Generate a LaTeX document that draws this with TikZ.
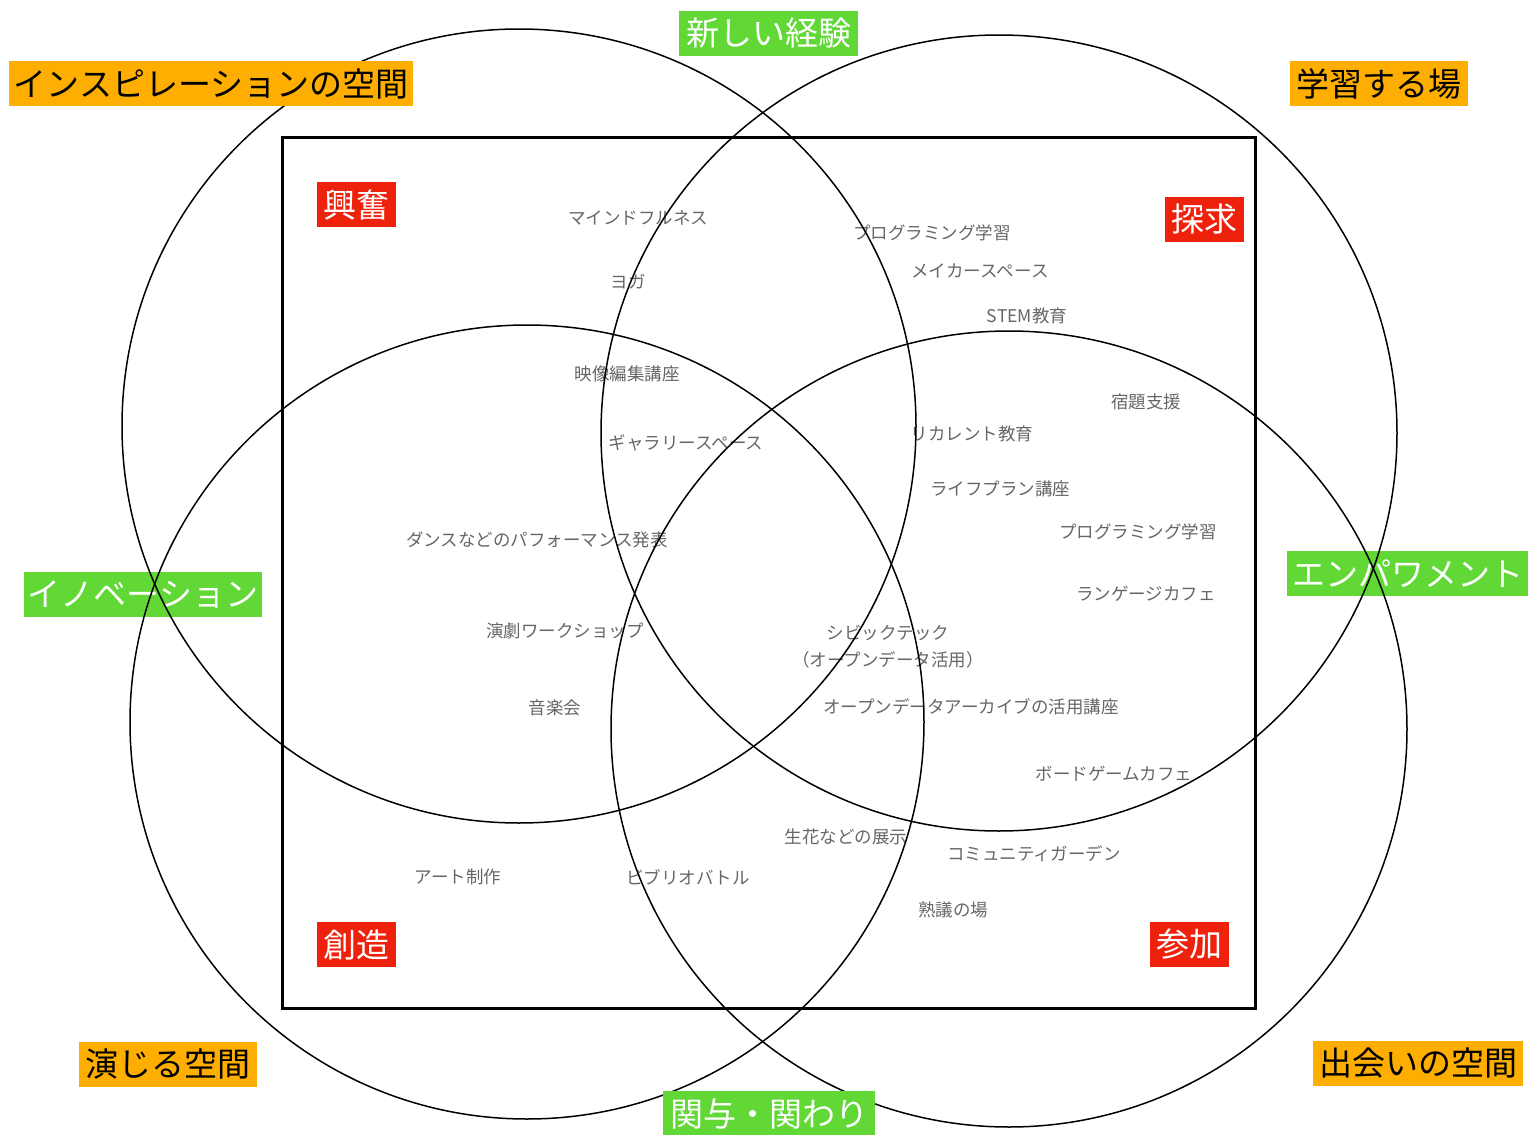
\documentclass[tikz,border=0pt]{standalone}
\usepackage{fontspec}
\setmainfont{Noto Sans CJK JP}
\definecolor{korange}{HTML}{FEAE00}
\definecolor{kgreen}{HTML}{61D836}
\definecolor{kred}{HTML}{EE220C}
\definecolor{kgray}{HTML}{666666}
\tikzset{
  tag/.style={inner sep=0pt, minimum height=22.5pt, font=\fontsize{16.5}{18}\selectfont},
  orangetag/.style={tag, fill=korange, text=black},
  greentag/.style={tag, fill=kgreen, text=white},
  redtag/.style={tag, fill=kred, text=white, minimum width=39.5pt},
  item/.style={text=kgray, inner sep=0pt, font=\fontsize{8.75}{13.5}\selectfont, align=center},
  circ/.style={draw=black, line width=0.75pt},
  frame/.style={draw=black, line width=1.5pt}
}
\begin{document}
\begin{tikzpicture}[x=0.5pt, y=-0.5pt]
\useasboundingbox (0,0) rectangle (1528,1135);
% small items
\node[item] (i1) at (638,218) {マインドフルネス};
\node[item] (i2) at (628,282) {ヨガ};
\node[item] (i3) at (932,233) {プログラミング学習};
\node[item] (i4) at (980,271) {メイカースペース};
\node[item] (i5) at (1027,316) {STEM教育};
\node[item] (i6) at (627,374) {映像編集講座};
\node[item] (i7) at (686,443) {ギャラリースペース};
\node[item] (i8) at (1146,402) {宿題支援};
\node[item] (i9) at (972,434) {リカレント教育};
\node[item] (i10) at (1000,489) {ライフプラン講座};
\node[item] (i11) at (1138,532) {プログラミング学習};
\node[item] (i12) at (1146,594) {ランゲージカフェ};
\node[item] (i13) at (537,540) {ダンスなどのパフォーマンス発表};
\node[item] (i14) at (565,631) {演劇ワークショップ};
\node[item] (i15) at (888,647) {シビックテック\\（オープンデータ活用）};
\node[item] (i16) at (555,708) {音楽会};
\node[item] (i17) at (971,707) {オープンデータアーカイブの活用講座};
\node[item] (i18) at (1114,774) {ボードゲームカフェ};
\node[item] (i19) at (846,837) {生花などの展示};
\node[item] (i20) at (1034,854) {コミュニティガーデン};
\node[item] (i21) at (458,877) {アート制作};
\node[item] (i22) at (688,877) {ビブリオバトル};
\node[item] (i23) at (953,910) {熟議の場};
% red tags
\node[redtag] (r1) at (356,204.5) {興奮};
\node[redtag] (r2) at (1204,219.5) {探求};
\node[redtag] (r3) at (356,944.5) {創造};
\node[redtag] (r4) at (1189,944.5) {参加};
% green tags under lines
\node[greentag, minimum width=119pt] (g2) at (143,594.5) {イノベーション};
\node[greentag, minimum width=120.5pt] (g3) at (1407.5,573.5) {エンパワメント};
% frame and circles
\draw[frame] (282,137) rectangle (1255,1008);
\draw[circ] (519,426) circle[radius=198.5pt];
\draw[circ] (999,433) circle[radius=199pt];
\draw[circ] (527,722) circle[radius=198.5pt];
\draw[circ] (1009,729) circle[radius=199pt];
% tags over lines
\node[orangetag, minimum width=202pt] (o1) at (211,83.5) {インスピレーションの空間};
\node[orangetag, minimum width=89pt] (o2) at (1379,83.5) {学習する場};
\node[orangetag, minimum width=89pt] (o3) at (168,1064) {演じる空間};
\node[orangetag, minimum width=105pt] (o4) at (1418,1063.5) {出会いの空間};
\node[greentag, minimum width=89.5pt] (g1) at (768.5,33.5) {新しい経験};
\node[greentag, minimum width=106pt] (g4) at (769,1113.5) {関与・関わり};
\end{tikzpicture}
\end{document}
